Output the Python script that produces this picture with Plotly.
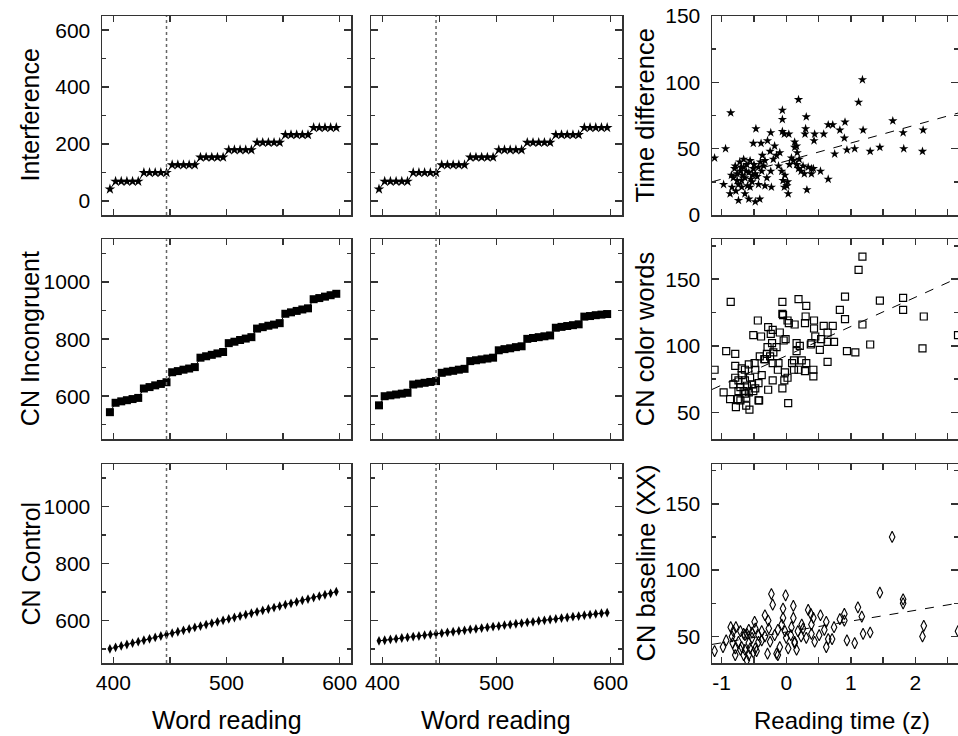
import plotly.graph_objects as go

# ---------------- data ----------------
word_reading = [397, 402, 407, 412, 417, 422, 427, 432, 437, 442, 447, 452, 457, 462, 467, 472,
                477, 482, 487, 492, 497, 502, 507, 512, 517, 522, 527, 532, 537, 542, 547, 552,
                557, 562, 567, 572, 577, 582, 587, 592, 597]

interference_a = [41, 68, 68, 68, 68, 68, 99, 99, 99, 99, 99, 126, 126, 126, 126, 126,
                  153, 153, 153, 153, 153, 179, 179, 179, 179, 179, 205, 205, 205, 205, 205,
                  232, 232, 232, 232, 232, 257, 257, 257, 257, 257]
interference_b = [41, 68, 68, 68, 68, 68, 99, 99, 99, 99, 99, 126, 126, 126, 126, 126,
                  153, 153, 153, 153, 153, 179, 179, 179, 179, 179, 205, 205, 205, 205, 205,
                  232, 232, 232, 232, 232, 257, 257, 257, 257, 257]

incongruent_a = [544, 577, 582, 586, 590, 594, 627, 632, 638, 643, 649, 684, 688, 693, 697, 702,
                 735, 740, 745, 750, 755, 786, 791, 797, 802, 807, 837, 842, 847, 851, 856,
                 889, 894, 899, 904, 908, 940, 944, 949, 954, 959]
incongruent_b = [568, 600, 603, 606, 609, 612, 641, 644, 647, 650, 653, 682, 686, 689, 693, 696,
                 723, 726, 729, 732, 735, 761, 765, 768, 772, 775, 801, 804, 807, 810, 813,
                 840, 843, 846, 849, 852, 879, 881, 884, 886, 888]

control_a = [500, 505, 510, 515, 520, 525, 530, 535, 540, 545, 550, 555, 560, 565, 570, 575,
             580, 585, 590, 595, 600, 605, 610, 615, 620, 625, 630, 635, 640, 645, 650, 655,
             660, 665, 670, 675, 680, 685, 690, 695, 701]
control_b = [528, 530, 533, 535, 538, 540, 543, 545, 548, 550, 553, 555, 558, 560, 563, 565,
             568, 570, 573, 575, 578, 580, 583, 585, 588, 590, 593, 595, 598, 600, 603, 605,
             608, 610, 613, 615, 618, 620, 623, 625, 627]

cutoff_word_reading = 447

# right column scatter: reading time (z) vs. time measures
td_z = [-1.11, -0.94, -0.86, -0.47, -0.51, -0.39, -0.24, -0.29, -0.06, -0.06, -0.06, -0.03, 0.04,
        0.19, 0.31, 0.30, 0.29, 0.13, 0.16, 0.43, 0.44, 0.58, 0.65, 0.72, 0.83, 0.91, 0.90, 0.75,
        0.94, 1.06, 1.12, 1.18, 1.19, 1.30, 1.45, 1.65, 1.81, 1.82, 2.12, 2.11, 0.32, 0.65, 0.53,
        0.42, 0.39, 0.26, 0.28, 0.19, 0.11, 0.08, 0.02, 0.03, -0.03, -0.05, -0.07, -0.12, -0.20,
        -0.15, -0.10, -0.25, -0.33, -0.37, -0.23, -0.24, -0.30, -0.38, -0.41, -0.48, -0.58, -0.74,
        -0.87, -0.97, -0.84, -0.79, -0.76, -0.71, -0.66, -0.61, -0.56, -0.64, -0.69, -0.74, -0.64,
        -0.53, -0.48, -0.43, -0.51, -0.58, -0.82, -0.76, -0.69, -0.56, -0.43, -0.33, 0.01, 0.16,
        0.23, 0.34, 0.39, -0.18, 0.13, 0.17, -0.80, -0.72, -0.68, -0.62, -0.55, -0.50, -0.45,
        -0.85, -0.78, -0.60, -0.66, -0.35, 0.05, 0.20, -0.02, -0.70, -0.52, -0.40]
td_val = [43, 50, 77, 65, 54, 54, 62, 56, 79, 72, 63, 61, 61,
          87, 74, 65, 61, 55, 52, 56, 61, 61, 68, 68, 64, 70, 58, 46,
          49, 50, 85, 102, 64, 48, 51, 71, 62, 50, 64, 48, 19, 27, 33,
          35, 31, 37, 31, 35, 41, 43, 25, 16, 21, 26, 33, 37, 42,
          45, 47, 48, 41, 45, 21, 33, 28, 33, 12, 10, 12, 11,
          16, 23, 21, 37, 31, 33, 36, 38, 41, 28, 26, 23, 16,
          25, 31, 36, 35, 32, 28, 26, 21, 21, 23, 22, 22, 38,
          33, 36, 35, 52, 51, 47, 35, 40, 30, 33, 27, 38, 29,
          30, 18, 22, 42, 37, 38, 42, 30, 36, 30, 40]

cw_z = [-1.11, -0.86, -0.93, -0.79, -0.79, -0.97, -0.87, -0.78, -0.75, -0.62, -0.57, -0.62, -0.51,
        -0.44, -0.39, -0.28, -0.21, -0.24, -0.22, -0.29, -0.30, -0.25, -0.41, -0.34, -0.10, -0.06,
        -0.06, -0.05, 0.02, 0.04, 0.13, 0.19, 0.31, 0.30, 0.29, 0.43, 0.43, 0.45, 0.54, 0.58, 0.72,
        0.64, 0.74, 0.64, 0.52, 0.38, 0.21, 0.16, -0.01, -0.04, 0.83, 0.91, 0.91, 1.18, 1.12, 1.18,
        0.94, 1.07, 1.30, 1.45, 1.81, 1.81, 2.13, 2.11, 2.66, 0.64, 0.42, 0.42, 0.29, 0.31, 0.24,
        0.12, 0.09, 0.19, 0.12, -0.02, -0.03, -0.06, 0.03, 0.02, -0.13, -0.12, -0.21, -0.21, -0.28,
        -0.42, -0.43, -0.38, -0.48, -0.49, -0.58, -0.64, -0.69, -0.69, -0.74, -0.64, -0.56, -0.53,
        -0.48, -0.61, -0.66, -0.74, -0.82, -0.79, -0.71, -0.58, -0.51, -0.64, -0.71, -0.43, -0.33,
        -0.20, -0.15, 0.39, 0.16]
cw_val = [82, 133, 96, 94, 85, 65, 60, 54, 60, 55, 52, 61, 108,
          119, 107, 114, 112, 109, 102, 99, 94, 92, 92, 90, 110, 133,
          124, 123, 119, 117, 116, 135, 130, 122, 117, 119, 113, 107, 105, 115, 115,
          110, 103, 103, 97, 101, 100, 102, 105, 104, 127, 137, 120, 167, 157, 116,
          96, 95, 101, 134, 136, 127, 122, 98, 108, 88, 77, 82, 81, 87, 89,
          89, 87, 82, 82, 80, 74, 68, 57, 76, 82, 87, 87, 74, 67,
          59, 72, 78, 82, 87, 86, 82, 83, 78, 74, 74, 76, 71,
          68, 70, 66, 66, 71, 76, 69, 65, 66, 64, 59, 59, 90,
          95, 99, 102, 96]

bl_z = [-1.11, -0.98, -0.93, -0.86, -0.78, -0.84, -0.83, -0.79, -0.71, -0.64, -0.61, -0.66, -0.58,
        -0.58, -0.53, -0.49, -0.48, -0.43, -0.38, -0.33, -0.28, -0.23, -0.21, -0.27, -0.25, -0.29,
        -0.15, -0.13, -0.05, -0.01, -0.05, -0.07, -0.02, 0.03, 0.11, 0.11, 0.08, 0.07, 0.13, 0.16,
        0.24, 0.26, 0.23, 0.31, 0.34, 0.38, 0.42, 0.39, 0.39, 0.44, 0.51, 0.53, 0.62, 0.59, 0.65,
        0.62, 0.71, 0.74, 0.83, 0.90, 0.90, 0.94, 1.06, 1.11, 1.17, 1.19, 1.30, 1.45, 1.64, 1.81,
        1.81, 2.13, 2.11, 2.66, -0.74, -0.69, -0.64, -0.56, -0.51, -0.46, -0.66, -0.61, -0.71,
        -0.53, -0.43, -0.38, -0.33, -0.18, -0.13, -0.10, 0.00, 0.13, 0.18, -0.48, -0.58, -0.79,
        -0.82]
bl_val = [39, 42, 47, 57, 57, 50, 45, 36, 54, 51, 32, 36, 45,
          55, 49, 61, 56, 51, 54, 66, 62, 82, 74, 56, 46, 37,
          37, 36, 71, 81, 64, 59, 54, 41, 73, 64, 57, 51, 45, 40,
          59, 56, 50, 49, 70, 67, 64, 59, 52, 46, 51, 66, 61, 55, 48,
          42, 48, 57, 63, 67, 62, 47, 45, 72, 65, 52, 53, 83, 125, 78,
          75, 58, 50, 54, 46, 42, 40, 41, 38, 39, 52, 52, 40,
          53, 46, 47, 50, 51, 55, 42, 49, 46, 54, 41, 36, 41,
          54]

fit_z = [-1.15, 2.66]
fit_td = [25.0, 76.8]
fit_cw = [67.2, 151.0]
fit_bl = [44.0, 75.1]

word_ticks = [400, 450, 500, 550, 600]
word_ticktext = ["400", "", "500", "", "600"]
z_ticks = [-1, -0.5, 0, 0.5, 1, 1.5, 2, 2.5]
z_ticktext = ["-1", "", "0", "", "1", "", "2", ""]

row_titles_left = ["Interference", "CN Incongruent", "CN Control"]
row_titles_right = ["Time difference", "CN color words", "CN baseline (XX)"]
x_title_left = "Word reading"
x_title_right = "Reading time (z)"

# ---------------- layout geometry ----------------
W, H = 958, 736
col_px = [(102, 351), (371, 622), (712, 958)]
row_px = [(16, 215), (239.3, 439), (464, 663)]

FONT = "Liberation Sans"
LINE_C = "#333333"

fig = go.Figure()

def ax_name(i, kind):
    return kind + ("" if i == 1 else str(i))

panels = []
for r in range(3):
    for c in range(3):
        panels.append((r, c))

left_series = {
    (0, 0): interference_a, (0, 1): interference_b,
    (1, 0): incongruent_a, (1, 1): incongruent_b,
    (2, 0): control_a, (2, 1): control_b,
}
row_marker = {0: dict(symbol="star", size=8), 1: dict(symbol="square", size=8),
              2: dict(symbol="diamond-tall", size=7)}

right_series = {
    0: (td_z, td_val, fit_td, dict(symbol="star", size=7, color="black")),
    1: (cw_z, cw_val, fit_cw, dict(symbol="square-open", size=7, color="black",
                                   line=dict(width=1.2, color="black"))),
    2: (bl_z, bl_val, fit_bl, dict(symbol="diamond-tall-open", size=8, color="black",
                                   line=dict(width=1.1, color="black"))),
}

y_ranges_left = {0: [-50, 650], 1: [450, 1150], 2: [450, 1150]}
y_ranges_right = {0: [0, 150], 1: [30, 180], 2: [30, 180]}

shapes = []
annotations = []

for idx, (r, c) in enumerate(panels, start=1):
    xa = ax_name(idx, "x")
    ya = ax_name(idx, "y")
    x0p, x1p = col_px[c]
    y0p, y1p = row_px[r]
    xdom = [x0p / W, min(x1p / W, 1.0)]
    ydom = [1 - y1p / H, 1 - y0p / H]

    base = dict(showline=True, linecolor=LINE_C, linewidth=1.5, mirror="ticks",
                ticks="inside", tickcolor=LINE_C, tickwidth=1.5, showgrid=False,
                zeroline=False, automargin=False,
                tickfont=dict(family=FONT, size=21, color="black"))

    xaxis = dict(base, domain=xdom, anchor=ya, ticklen=6,
                 showticklabels=(r == 2))
    yaxis = dict(base, domain=ydom, anchor=xa, ticklen=7, ticklabelstandoff=6)

    if c < 2:
        xaxis.update(range=[390, 610], tickmode="array", tickvals=word_ticks,
                     ticktext=word_ticktext)
        yaxis.update(range=y_ranges_left[r], tick0=0, dtick=200,
                     minor=dict(ticks="inside", ticklen=4, tickcolor=LINE_C, tickwidth=1.5,
                                dtick=100, tick0=0),
                     showticklabels=(c == 0))
        fig.add_trace(go.Scatter(
            x=word_reading, y=left_series[(r, c)], mode="lines+markers",
            xaxis=xa, yaxis=ya,
            line=dict(color="black", width=1),
            marker=dict(color="black", **row_marker[r]),
            hoverinfo="skip", showlegend=False))
        shapes.append(dict(type="line", xref=xa, yref=ya + " domain",
                           x0=cutoff_word_reading, x1=cutoff_word_reading, y0=0, y1=1,
                           line=dict(color="#666666", width=1.5, dash="dot")))
    else:
        xaxis.update(range=[-1.15, 2.66], tickmode="array", tickvals=z_ticks,
                     ticktext=z_ticktext)
        yaxis.update(range=y_ranges_right[r], tick0=0, dtick=50,
                     minor=dict(ticks="inside", ticklen=4, tickcolor=LINE_C, tickwidth=1.5,
                                dtick=25, tick0=0))
        zs, vals, fit, mk = right_series[r]
        fig.add_trace(go.Scatter(
            x=zs, y=vals, mode="markers", xaxis=xa, yaxis=ya,
            marker=mk, hoverinfo="skip", showlegend=False, cliponaxis=True))
        fig.add_trace(go.Scatter(
            x=fit_z, y=fit, mode="lines", xaxis=xa, yaxis=ya,
            line=dict(color="black", width=1, dash="dash"),
            hoverinfo="skip", showlegend=False))

    fig.layout["xaxis" + ("" if idx == 1 else str(idx))] = xaxis
    fig.layout["yaxis" + ("" if idx == 1 else str(idx))] = yaxis

# axis titles as annotations
row_centers = [(a + b) / 2 for a, b in row_px]
for r in range(3):
    annotations.append(dict(text=row_titles_left[r], x=30 / W, y=1 - row_centers[r] / H,
                            xref="paper", yref="paper", textangle=-90, showarrow=False,
                            xanchor="center", yanchor="middle",
                            font=dict(family=FONT, size=25, color="black")))
    annotations.append(dict(text=row_titles_right[r], x=645 / W, y=1 - row_centers[r] / H,
                            xref="paper", yref="paper", textangle=-90, showarrow=False,
                            xanchor="center", yanchor="middle",
                            font=dict(family=FONT, size=25.5, color="black")))
for c in range(2):
    cx = (col_px[c][0] + col_px[c][1]) / 2
    annotations.append(dict(text=x_title_left, x=cx / W, y=1 - 720 / H,
                            xref="paper", yref="paper", showarrow=False,
                            xanchor="center", yanchor="middle",
                            font=dict(family=FONT, size=25, color="black")))
annotations.append(dict(text=x_title_right, x=842 / W, y=1 - 720 / H,
                        xref="paper", yref="paper", showarrow=False,
                        xanchor="center", yanchor="middle",
                        font=dict(family=FONT, size=24, color="black")))

fig.update_layout(width=W, height=H,
                  margin=dict(l=0, r=0, t=0, b=0, pad=0, autoexpand=False),
                  paper_bgcolor="white", plot_bgcolor="white", showlegend=False,
                  shapes=shapes, annotations=annotations,
                  font=dict(family=FONT, color="black"))

fig.write_html("out.html",
               config={"displayModeBar": False, "staticPlot": True},
               post_script="document.body.style.margin='0px';"
                           "document.body.style.overflow='hidden';")
